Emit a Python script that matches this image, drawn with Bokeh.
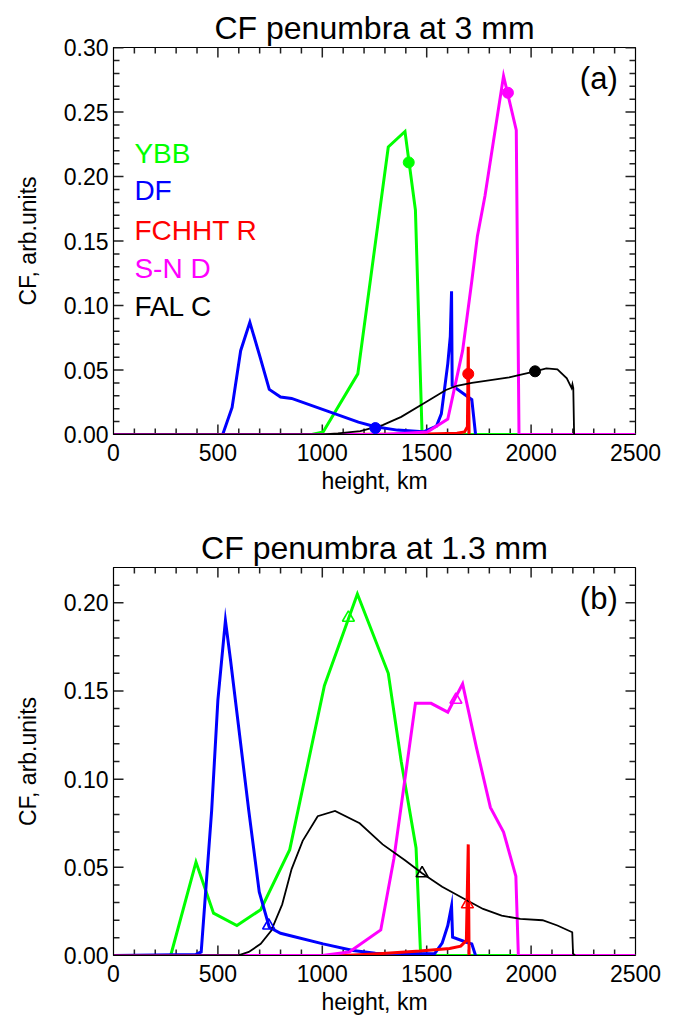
import numpy as np
from bokeh.plotting import figure
from bokeh.layouts import column
from bokeh.models import SingleIntervalTicker, NumeralTickFormatter, Label, Range1d
from bokeh.embed import file_html
from bokeh.resources import INLINE

FONT = "Liberation Sans"
GREEN = "#00ff00"
BLUE = "#0000ff"
RED = "#ff0000"
MAG = "#ff00ff"
BLACK = "#000000"

series_names = ["YBB", "DF", "FCHHT R", "S-N D", "FAL C"]
series_colors = [GREEN, BLUE, RED, MAG, BLACK]

# ---------------- panel (a): 3 mm ----------------
ybb_a_h = [0, 950, 1004, 1170, 1316, 1396, 1446, 1478, 2500]
ybb_a_cf = [0, 0, 0.002, 0.047, 0.223, 0.235, 0.174, 0.0, 0]

df_a_h = [0, 523, 568, 609, 653, 702, 746, 800, 853, 1173, 1254, 1360, 1485, 1547, 1570, 1601, 1613, 1619, 1622, 1690, 1716, 1734]
df_a_cf = [0, 0, 0.021, 0.065, 0.087, 0.060, 0.035, 0.029, 0.028, 0.0096, 0.006, 0.0034, 0.0021, 0.0065, 0.016, 0.055, 0.076, 0.111, 0.038, 0.030, 0.027, 0.0]

fchht_a_h = [1000, 1500, 1645, 1681, 1695, 1699, 1703]
fchht_a_cf = [0, 0.0003, 0.001, 0.002, 0.006, 0.068, 0.0]

snd_a_h = [0, 1289, 1503, 1601, 1672, 1716, 1743, 1779, 1868, 1929, 1942, 2500]
snd_a_cf = [0, 0, 0.002, 0.012, 0.065, 0.119, 0.154, 0.185, 0.278, 0.236, 0.0, 0]

fal_a_h = [0, 1004, 1075, 1182, 1289, 1378, 1485, 1592, 1645, 1716, 1806, 1895, 2019, 2073, 2126, 2171, 2194, 2198, 2202, 2206]
fal_a_cf = [0, 0, 0.0008, 0.0026, 0.0073, 0.0137, 0.024, 0.0345, 0.0378, 0.040, 0.0422, 0.0443, 0.049, 0.0513, 0.0505, 0.0435, 0.036, 0.039, 0.036, 0.0]

# mean formation heights (filled circles), order: YBB, DF, FCHHT R, S-N D, FAL C
mean_a_h = [1414, 1254, 1699, 1889, 2019]
mean_a_cf = [0.211, 0.005, 0.047, 0.265, 0.049]

# ---------------- panel (b): 1.3 mm ----------------
ybb_b_h = [0, 274, 395, 479, 591, 705, 844, 1010, 1168, 1316, 1378, 1449, 1471, 2500]
ybb_b_cf = [0, 0, 0.053, 0.024, 0.017, 0.026, 0.060, 0.153, 0.205, 0.160, 0.110, 0.061, 0.0, 0]

df_b_h = [0, 395, 420, 470, 500, 536, 560, 648, 698, 746, 800, 862, 1004, 1147, 1254, 1538, 1574, 1601, 1619, 1624, 1690, 1716, 1734]
df_b_cf = [0, 0.0006, 0.002, 0.082, 0.145, 0.190, 0.168, 0.082, 0.036, 0.016, 0.0126, 0.0108, 0.0066, 0.0028, 0.0013, 0.001, 0.007, 0.017, 0.028, 0.0104, 0.0075, 0.0066, 0.0]

fchht_b_h = [1000, 1100, 1271, 1467, 1610, 1663, 1690, 1699, 1703]
fchht_b_cf = [0, 0, 0.001, 0.0025, 0.004, 0.0053, 0.0085, 0.063, 0.0]

snd_b_h = [0, 1000, 1129, 1280, 1343, 1446, 1521, 1601, 1672, 1738, 1805, 1868, 1927, 1939, 2500]
snd_b_cf = [0, 0, 0.002, 0.0145, 0.055, 0.143, 0.143, 0.138, 0.154, 0.118, 0.084, 0.070, 0.045, 0.0, 0]

fal_b_h = [0, 595, 648, 705, 755, 808, 853, 906, 978, 1061, 1179, 1289, 1396, 1478, 1574, 1681, 1770, 1859, 1948, 2055, 2126, 2197, 2201, 2211]
fal_b_cf = [0, 0, 0.002, 0.0066, 0.014, 0.029, 0.049, 0.065, 0.079, 0.082, 0.075, 0.063, 0.054, 0.0466, 0.039, 0.032, 0.0264, 0.0226, 0.0208, 0.020, 0.017, 0.0132, 0.001, 0.0]

# mean formation heights (open triangles)
mean_b_h = [1125, 743, 1695, 1640, 1478]
mean_b_cf = [0.1915, 0.017, 0.029, 0.145, 0.0466]

X_MAX = 2500
X_MAJOR = 500
X_MINOR = 100
Y_MAJOR = 0.05
Y_MINOR = 0.01

W = 673
LEFT, RIGHT = 113, 38
MAJ_LEN, MIN_LEN = 10, 6
TICK_COLOR = "#222222"


def add_inner_ticks(p, ymax, fw, fh):
    kx = X_MAX / fw      # km per pixel
    ky = ymax / fh       # cf per pixel
    n_x = int(round(X_MAX / X_MINOR))
    n_y = int(np.floor(ymax / Y_MINOR + 1e-6))
    for i in range(1, n_x):
        xv = float(i * X_MINOR)
        L = (MAJ_LEN if i % 5 == 0 else MIN_LEN) * ky
        p.line([xv, xv], [0.0, L], line_color=TICK_COLOR, line_width=1.5)
        p.line([xv, xv], [ymax, ymax - L], line_color=TICK_COLOR, line_width=1.5)
    for j in range(1, n_y + 1):
        yv = float(j * Y_MINOR)
        if yv >= ymax - 1e-9:
            continue
        L = (MAJ_LEN if j % 5 == 0 else MIN_LEN) * kx
        p.line([0.0, L], [yv, yv], line_color=TICK_COLOR, line_width=1.5)
        p.line([float(X_MAX), X_MAX - L], [yv, yv], line_color=TICK_COLOR, line_width=1.5)


def make_panel(title, ymax, curves, mean_h, mean_cf, marker, tag, legend, height, top, bottom):
    p = figure(width=W, height=height, output_backend="svg", toolbar_location=None,
               x_range=Range1d(0, X_MAX), y_range=Range1d(0, ymax),
               min_border_left=LEFT, min_border_right=RIGHT, min_border_top=top, min_border_bottom=bottom,
               x_axis_label="height, km", y_axis_label="CF, arb.units")
    p.title.text = title
    p.title.align = "center"
    p.title.text_font = FONT
    p.title.text_font_size = "32px"
    p.title.text_font_style = "normal"
    p.title.text_color = BLACK
    p.title.standoff = 4
    p.grid.visible = False
    p.outline_line_color = BLACK
    p.outline_line_width = 1.2
    p.background_fill_color = "white"
    p.border_fill_color = "white"

    p.xaxis.ticker = SingleIntervalTicker(interval=X_MAJOR, num_minor_ticks=5)
    p.yaxis.ticker = SingleIntervalTicker(interval=Y_MAJOR, num_minor_ticks=5)
    p.xaxis.formatter = NumeralTickFormatter(format="0")
    p.yaxis.formatter = NumeralTickFormatter(format="0.00")
    for ax in p.xaxis + p.yaxis:
        ax.axis_line_color = BLACK
        ax.major_tick_in = 0
        ax.major_tick_out = 0
        ax.minor_tick_in = 0
        ax.minor_tick_out = 0
        ax.major_label_text_font = FONT
        ax.major_label_text_font_size = "23px"
        ax.major_label_text_color = BLACK
        ax.axis_label_text_font = FONT
        ax.axis_label_text_font_size = "23px"
        ax.axis_label_text_font_style = "normal"
        ax.axis_label_text_color = BLACK
    p.xaxis.major_label_standoff = 9
    p.xaxis.axis_label_standoff = 4
    p.yaxis.major_label_standoff = 5
    p.yaxis.axis_label_standoff = 20

    fw = W - LEFT - RIGHT
    fh = height - top - bottom
    add_inner_ticks(p, ymax, fw, fh)

    for (h, cf), col in zip(curves, series_colors):
        lw = 1.8 if col == BLACK else 3
        p.line(h, cf, line_color=col, line_width=lw, line_join="miter")

    if marker == "circle":
        p.scatter(mean_h, mean_cf, marker="circle", size=11, fill_color=series_colors,
                  line_color=series_colors)
    else:
        p.scatter(mean_h, mean_cf, marker="triangle", size=12, fill_color=None,
                  line_color=series_colors, line_width=1.6)

    p.add_layout(Label(x=2415, y=ymax * 0.92, text=tag, text_align="right", text_baseline="middle",
                       text_font=FONT, text_font_size="31px", text_color=BLACK))
    if legend:
        ys = [0.218, 0.189, 0.158, 0.129, 0.099]
        for name, col, yy in zip(series_names, series_colors, ys):
            p.add_layout(Label(x=100, y=yy, text=name, text_color=col, text_align="left",
                               text_baseline="middle", text_font=FONT, text_font_size="28px"))
    return p


curves_a = [(ybb_a_h, ybb_a_cf), (df_a_h, df_a_cf), (fchht_a_h, fchht_a_cf), (snd_a_h, snd_a_cf), (fal_a_h, fal_a_cf)]
curves_b = [(ybb_b_h, ybb_b_cf), (df_b_h, df_b_cf), (fchht_b_h, fchht_b_cf), (snd_b_h, snd_b_cf), (fal_b_h, fal_b_cf)]

p1 = make_panel("CF penumbra at 3 mm", 0.3001, curves_a, mean_a_h, mean_a_cf, "circle", "(a)", True, 511, 47, 77)
p2 = make_panel("CF penumbra at 1.3 mm", 0.22, curves_b, mean_b_h, mean_b_cf, "triangle", "(b)", False, 512, 56, 68)

layout = column(p1, p2, spacing=0)
open("out.html", "w").write(file_html(layout, INLINE))
